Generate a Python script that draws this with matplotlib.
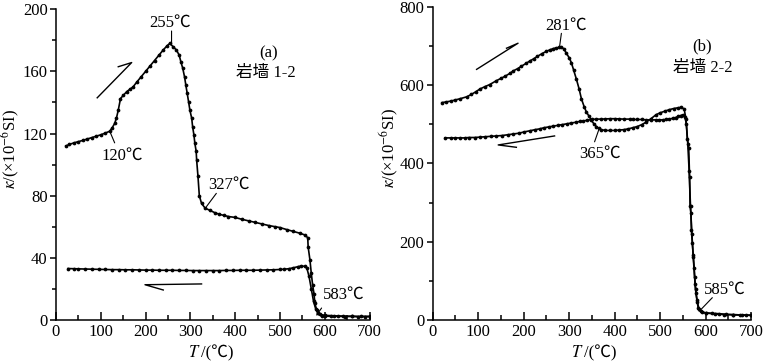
import matplotlib
matplotlib.use('Agg')
import matplotlib.pyplot as plt
from matplotlib.ticker import MultipleLocator

plt.rcParams['font.family'] = ['Liberation Serif', 'Noto Sans CJK SC']
plt.rcParams['mathtext.fontset'] = 'stix'

# (a) 岩墙 1-2, heating curve
a_heat_T = [22, 30, 40, 50, 60, 70, 80, 90, 100, 110, 120, 125, 131, 135, 139, 144,
            150, 158, 165, 172, 180, 190, 200, 210, 220, 230, 240, 248, 254,
            262, 269, 275, 279, 283, 287, 290, 293, 296, 299, 303, 305, 308, 310,
            313, 314, 317, 320, 325, 333, 344, 355, 365, 375, 385, 400, 415, 430,
            445, 460, 475, 490, 500, 515, 530, 545, 555, 562, 563, 567, 570, 573,
            576, 578, 582, 585, 593, 600, 615, 630, 645, 660, 675, 690, 700]
a_heat_k = [112, 113, 114, 114.8, 115.6, 116.5, 117.4, 118.3, 119.2, 120.3, 121.5, 123.5, 126.5, 130, 135, 142.5,
            144.5, 147, 148.5, 150, 153, 156.5, 160, 163.5, 167, 170.5, 174, 176.5, 178,
            175.8, 173.7, 170.5, 166, 162, 156.5, 151, 145.8, 140.5, 135, 129.8, 124.5, 119, 113.8,
            108.5, 103, 92.4, 80, 75, 72, 70.5, 69, 68, 67.3, 66.6, 66, 64.8, 63.8,
            62.8, 61.8, 60.8, 60, 59.5, 58.2, 57, 55.8, 54.8, 53, 47, 38.6, 30, 22.5,
            17, 10.7, 6.4, 4.3, 2.4, 2.5, 2.3, 2.4, 2.2, 2.3, 2.1, 2.2, 2.2]

# (a) cooling curve
a_cool_T = [700, 680, 660, 640, 620, 600, 590, 585, 580, 575, 570, 565, 560, 555, 548,
            540, 530, 520, 510, 500, 485, 470, 455, 440, 425, 410, 395, 380, 365, 350,
            335, 320, 305, 290, 275, 260, 245, 230, 215, 200, 185, 170, 155, 140, 125,
            110, 95, 80, 65, 50, 40, 27]
a_cool_k = [2.3, 2.3, 2.4, 2.5, 2.7, 3, 3.6, 4.5, 7, 12, 20, 28, 33.5, 34.5, 34.8,
            34.3, 33.6, 33, 32.7, 32.5, 32.3, 32.2, 32.1, 32, 32, 32, 31.9, 31.9, 31.8, 31.8,
            31.8, 31.8, 31.8, 31.9, 31.9, 32, 32, 32, 32.1, 32.1, 32.2, 32.3, 32.3, 32.4, 32.4,
            32.5, 32.6, 32.7, 32.8, 32.9, 33, 33.1]

# (b) 岩墙 2-2, heating curve
b_heat_T = [20, 30, 40, 50, 60, 75, 85, 95, 104, 115, 125, 140, 150, 160, 170, 177,
            187, 195, 205, 213, 222, 230, 240, 250, 258, 265, 272, 278, 283, 288,
            294, 300, 305, 310, 316, 322, 327, 333, 338, 344, 349, 355, 360, 365,
            371, 380, 390, 400, 410, 420, 430, 440, 450, 460, 469, 480, 491, 500,
            510, 520, 530, 540, 546, 553, 557, 560, 563, 565, 566, 568, 569, 571,
            573, 575, 577, 578, 581, 584, 590, 600, 615, 630, 645, 660, 675, 690, 700]
b_heat_k = [555, 557, 559, 562, 565, 570, 576, 583, 590, 596, 601, 611, 617, 623, 630, 636,
            642, 648, 655, 661, 667, 673, 680, 686, 690, 693, 695, 696, 696, 693,
            681, 670, 657, 638, 615, 590, 565, 545, 531, 520, 510, 500, 494, 489,
            486, 484, 484, 484, 485, 486, 488, 491, 494, 499, 505, 514, 524, 529,
            533, 537, 540, 542, 543, 539, 513, 463, 440, 365, 292, 272, 230, 197,
            165, 134, 91, 78, 52, 30, 22, 18, 17, 16, 14.5, 14, 13, 12.5, 12]

# (b) cooling curve
b_cool_T = [700, 680, 660, 640, 620, 600, 592, 586, 582, 579, 576, 573, 570, 567, 564,
            561, 558, 555, 550, 545, 540, 534, 528, 520, 512, 506, 498, 490, 480, 470,
            460, 450, 440, 433, 420, 410, 400, 390, 380, 370, 360, 350, 340, 330, 323,
            315, 305, 295, 285, 275, 265, 255, 245, 235, 225, 213, 200, 190, 177, 165,
            152, 140, 128, 116, 104, 92, 80, 70, 60, 50, 40, 27]
b_cool_k = [12, 12.5, 13, 14, 15.5, 18, 20, 28, 45, 70, 110, 160, 220, 290, 380,
            450, 500, 518, 524, 522, 520, 517, 515, 513, 512, 511, 511, 511, 511, 511,
            512, 512, 512, 513, 513, 513.5, 514, 514, 513.5, 513, 513, 512, 510, 508, 507,
            505, 503, 501, 499, 497, 495, 493, 491, 488, 486, 483, 480, 477, 475, 473,
            471, 470, 469, 468, 467, 466, 466, 465, 465, 465, 465, 465]

label_a = '(a)'
label_b = '(b)'
name_a = '岩墙 1-2'
name_b = '岩墙 2-2'

fs = 12
fig = plt.figure(figsize=(7.66, 3.63), dpi=100)
ax1 = fig.add_axes([0.0731, 0.1185, 0.4093, 0.856])
ax2 = fig.add_axes([0.5649, 0.1185, 0.4155, 0.863])

curve = dict(color='black', lw=1.2, marker='o', ms=2.7, mew=0)

ax1.plot(a_heat_T, a_heat_k, **curve)
ax1.plot(a_cool_T, a_cool_k, **curve)
ax2.plot(b_heat_T, b_heat_k, **curve)
ax2.plot(b_cool_T, b_cool_k, **curve)

for ax, xsplit, ylx in ((ax1, 0.4625, -0.108), (ax2, 0.475, -0.1)):
    ax.set_xlim(0, 700)
    ax.spines['top'].set_visible(False)
    ax.spines['right'].set_visible(False)
    for s in ('left', 'bottom'):
        ax.spines[s].set_linewidth(1.1)
    ax.xaxis.set_major_locator(MultipleLocator(100))
    ax.xaxis.set_minor_locator(MultipleLocator(50))
    ax.tick_params(axis='x', which='major', direction='in', length=6, width=1.1,
                   labelsize=fs, pad=3)
    ax.tick_params(axis='x', which='minor', direction='in', length=3.5, width=1.1)
    ax.tick_params(axis='y', which='major', direction='out', length=4.5, width=1.1,
                   labelsize=fs, pad=1.5)
    ax.tick_params(axis='y', which='minor', direction='out', length=3, width=1.1)
    # x label: italic T followed by /(℃)
    ax.text(xsplit, -0.106, '$T$', transform=ax.transAxes, fontsize=fs,
            ha='right', va='center')
    ax.text(xsplit, -0.106, '/(℃)', transform=ax.transAxes, fontsize=fs,
            ha='left', va='center')
    ax.set_ylabel(r'$\kappa$/(×10$^{-6}$SI)', fontsize=fs)
    ax.yaxis.set_label_coords(ylx, 0.55)

ax1.set_ylim(0, 200)
ax1.yaxis.set_major_locator(MultipleLocator(40))
ax1.yaxis.set_minor_locator(MultipleLocator(20))
ax2.set_ylim(0, 800)
ax2.yaxis.set_major_locator(MultipleLocator(200))
ax2.yaxis.set_minor_locator(MultipleLocator(100))

# annotations
lead = dict(arrowstyle='-', color='black', lw=0.8, shrinkA=0, shrinkB=0)
txt = dict(fontsize=fs, ha='center', va='center')

ax1.annotate('', xy=(258, 178), xytext=(258, 186), arrowprops=lead)
ax1.text(254, 191.5, '255℃', **txt)
ax1.annotate('', xy=(120, 121.5), xytext=(131, 114), arrowprops=lead)
ax1.text(147, 106, '120℃', **txt)
ax1.annotate('', xy=(336, 73), xytext=(358, 81.5), arrowprops=lead)
ax1.text(386, 87, '327℃', **txt)
ax1.annotate('', xy=(582, 3.2), xytext=(593, 7.7), arrowprops=lead)
ax1.text(642, 16, '583℃', **txt)
ax1.text(475, 171.5, label_a, **txt)
ax1.text(469, 159, name_a, **txt)

ax2.annotate('', xy=(279, 698), xytext=(283, 732), arrowprops=lead)
ax2.text(294, 752, '281℃', **txt)
ax2.annotate('', xy=(365, 485), xytext=(356, 455), arrowprops=lead)
ax2.text(369, 425, '365℃', **txt)
ax2.annotate('', xy=(586, 22), xytext=(615, 57), arrowprops=lead)
ax2.text(643, 78, '585℃', **txt)
ax2.text(593, 698, label_b, **txt)
ax2.text(593, 644, name_b, **txt)

# direction arrows (half heads)
harp = dict(color='black', lw=1.0)
ax1.plot([92, 169, 139], [143, 165.7, 163], **harp)
ax1.plot([325, 198.7, 239.5], [23.2, 22.7, 19.3], **harp)
ax2.plot([96.5, 187.7, 162.3], [640, 706.8, 694], **harp)
ax2.plot([268, 144, 184], [470, 447, 441], **harp)

fig.savefig('out.png', dpi=100)
